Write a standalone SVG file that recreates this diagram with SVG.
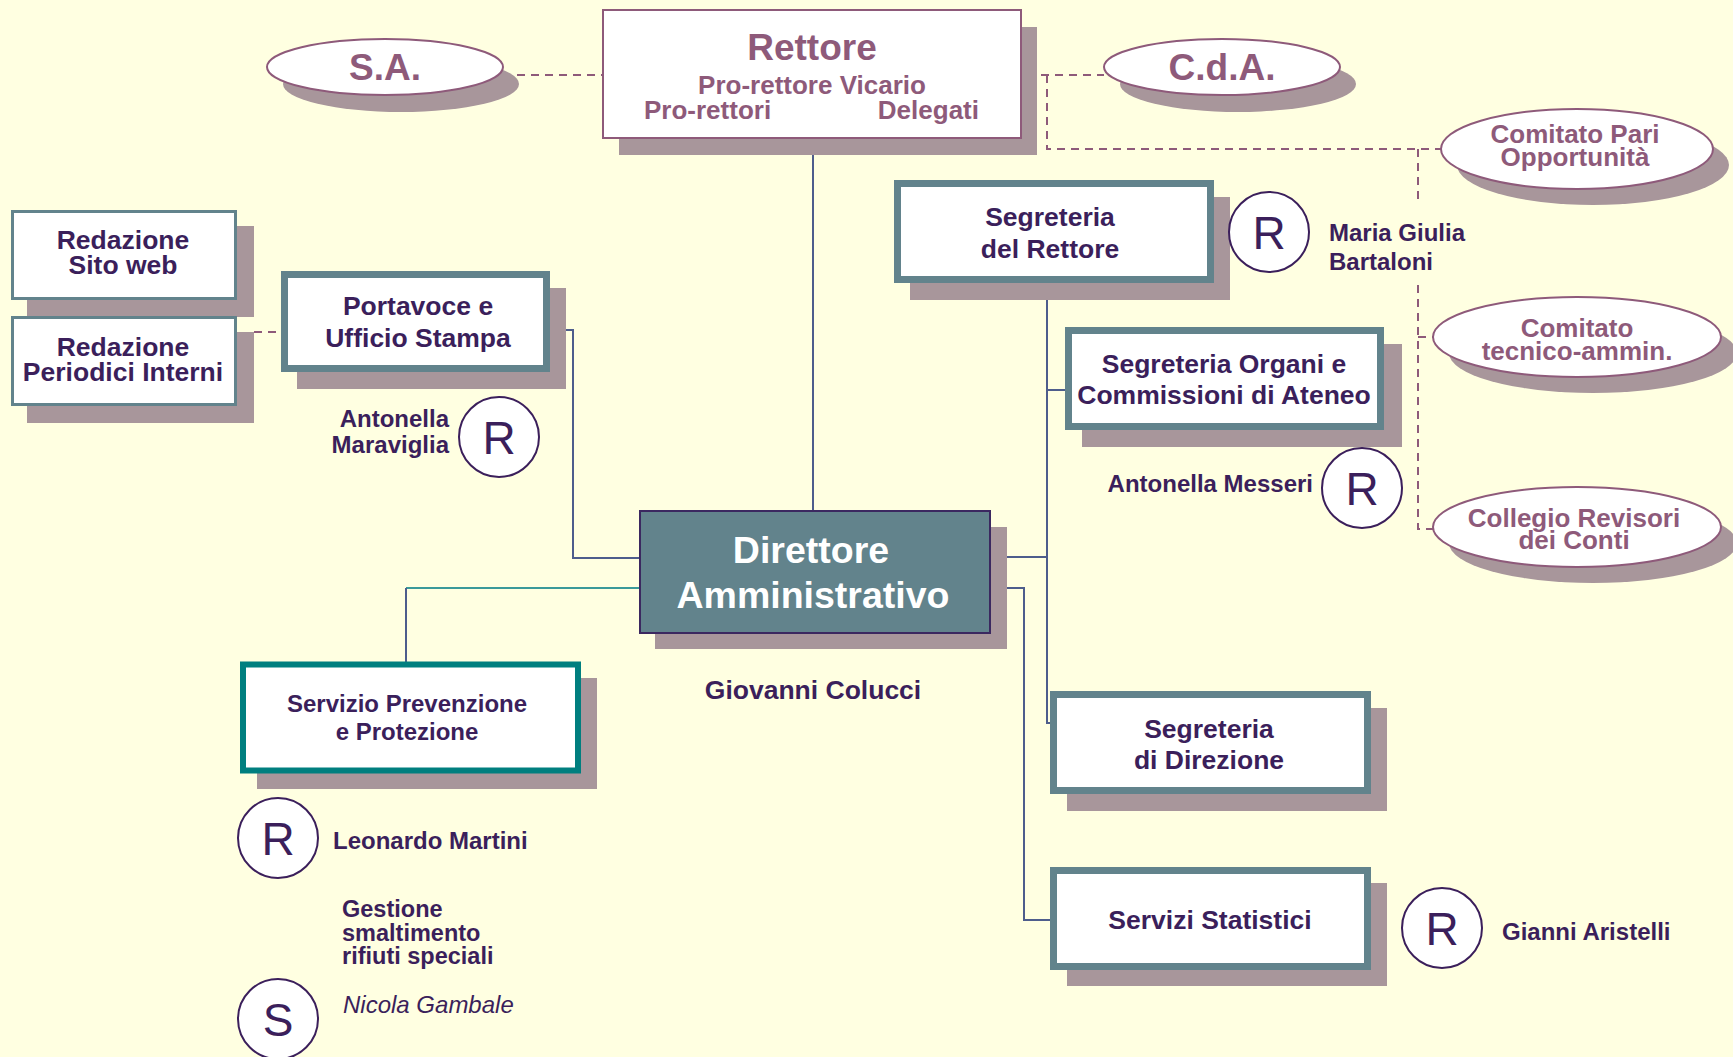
<svg xmlns="http://www.w3.org/2000/svg" width="1733" height="1057" viewBox="0 0 1733 1057">
<style>
.sh{fill:#A8969B}
.box{fill:#fff;stroke:#62838C;stroke-width:7}
.thin{fill:#fff;stroke:#62838C;stroke-width:3}
.ell{fill:#fff;stroke:#8E5A7A;stroke-width:2}
.circ{fill:#fff;stroke:#3B1F5B;stroke-width:2}
.ln{fill:none;stroke:#4E5D8C;stroke-width:2}
.dash{fill:none;stroke:#8E5A7A;stroke-width:2;stroke-dasharray:8 6}
text{font-family:"Liberation Sans",Arial,sans-serif;font-weight:bold;fill:#3B1F5B}
.m{fill:#8E5A7A}
.c{text-anchor:middle}
.r{text-anchor:end}
.R{font-weight:normal;font-size:46px;text-anchor:middle}
.bx{font-size:26.5px}
.nm{font-size:24px}
.w{fill:#fff;font-size:37.5px}
</style>
<rect width="1733" height="1057" fill="#FFFFE1"/>
<g id="connectors">
<path class="dash" d="M503 75H603"/>
<path class="dash" d="M1041 75H1104M1047 75V149H1441M1418 149V202M1418 285V529H1433M1418 337H1433"/>
<path class="dash" d="M254 332H281"/>
<path class="ln" d="M813 138V511"/>
<path class="ln" d="M550 330H573V558H639"/>
<path d="M639 588H406" fill="none" stroke="#3A9A9A" stroke-width="2"/>
<path class="ln" d="M406 588V662"/>
<path class="ln" d="M990 557H1047M1047 300V723H1052M1047 390H1065"/>
<path class="ln" d="M990 588H1024V920H1052"/>
</g>
<g id="sa">
<ellipse class="sh" cx="401" cy="84" rx="118" ry="28"/>
<ellipse class="ell" cx="385" cy="67" rx="118" ry="28"/>
<text class="m c" x="385" y="80" font-size="37">S.A.</text>
</g>
<g id="cda">
<ellipse class="sh" cx="1238" cy="84" rx="118" ry="28"/>
<ellipse class="ell" cx="1222" cy="67" rx="118" ry="28"/>
<text class="m c" x="1222" y="80" font-size="37">C.d.A.</text>
</g>
<g id="rettore">
<rect class="sh" x="619" y="27" width="418" height="128"/>
<rect x="603" y="10" width="418" height="128" fill="#fff" stroke="#8E5A7A" stroke-width="2"/>
<text class="m c" x="812" y="60" font-size="37">Rettore</text>
<text class="m c" x="812" y="94" font-size="26">Pro-rettore Vicario</text>
<text class="m" x="644" y="119" font-size="26">Pro-rettori</text>
<text class="m r" x="979" y="119" font-size="26">Delegati</text>
</g>
<g id="pari">
<ellipse class="sh" cx="1593" cy="165" rx="136" ry="40"/>
<ellipse class="ell" cx="1577" cy="149" rx="136" ry="40"/>
<text class="m c" x="1575" y="143" font-size="26">Comitato Pari</text>
<text class="m c" x="1575" y="166" font-size="26">Opportunità</text>
</g>
<g id="tecnico">
<ellipse class="sh" cx="1593" cy="353" rx="144" ry="40"/>
<ellipse class="ell" cx="1577" cy="337" rx="144" ry="40"/>
<text class="m c" x="1577" y="337" font-size="26">Comitato</text>
<text class="m c" x="1577" y="360" font-size="26">tecnico-ammin.</text>
</g>
<g id="collegio">
<ellipse class="sh" cx="1593" cy="543" rx="144" ry="40"/>
<ellipse class="ell" cx="1577" cy="527" rx="144" ry="40"/>
<text class="m c" x="1574" y="527" font-size="26">Collegio Revisori</text>
<text class="m c" x="1574" y="549" font-size="26">dei Conti</text>
</g>
<g id="seg-rettore">
<rect class="sh" x="910" y="197" width="320" height="103"/>
<rect class="box" x="897.5" y="183.5" width="313" height="96"/>
<text class="c bx" x="1050" y="226">Segreteria</text>
<text class="c bx" x="1050" y="258">del Rettore</text>
<circle class="circ" cx="1269" cy="232" r="40"/>
<text class="R" x="1269" y="249">R</text>
<text class="nm" x="1329" y="241">Maria Giulia</text>
<text class="nm" x="1329" y="270">Bartaloni</text>
</g>
<g id="seg-organi">
<rect class="sh" x="1082" y="344" width="320" height="103"/>
<rect class="box" x="1068.5" y="330.5" width="312" height="96"/>
<text class="c bx" x="1224" y="373">Segreteria Organi e</text>
<text class="c bx" x="1224" y="404">Commissioni di Ateneo</text>
<circle class="circ" cx="1362" cy="488" r="40"/>
<text class="R" x="1362" y="505">R</text>
<text class="r nm" x="1313" y="492">Antonella Messeri</text>
</g>
<g id="red-sito">
<rect class="sh" x="27" y="226" width="227" height="91"/>
<rect class="thin" x="12.5" y="211.5" width="223" height="87"/>
<text class="c bx" x="123" y="249">Redazione</text>
<text class="c bx" x="123" y="274">Sito web</text>
</g>
<g id="red-periodici">
<rect class="sh" x="27" y="332" width="227" height="91"/>
<rect class="thin" x="12.5" y="317.5" width="223" height="87"/>
<text class="c bx" x="123" y="356">Redazione</text>
<text class="c bx" x="123" y="381">Periodici Interni</text>
</g>
<g id="portavoce">
<rect class="sh" x="297" y="288" width="269" height="101"/>
<rect class="box" x="284.5" y="274.5" width="262" height="94"/>
<text class="c bx" x="418" y="315">Portavoce e</text>
<text class="c bx" x="418" y="347">Ufficio Stampa</text>
<circle class="circ" cx="499" cy="437" r="40"/>
<text class="R" x="499" y="454">R</text>
<text class="r nm" x="449" y="427">Antonella</text>
<text class="r nm" x="449" y="453">Maraviglia</text>
</g>
<g id="direttore">
<rect class="sh" x="655" y="527" width="352" height="122"/>
<rect x="640" y="511" width="350" height="122" fill="#62838C" stroke="#3B2860" stroke-width="2"/>
<text class="c w" x="811" y="563">Direttore</text>
<text class="c w" x="813" y="608">Amministrativo</text>
<text class="c bx" x="813" y="699">Giovanni Colucci</text>
</g>
<g id="servizio-prev">
<rect class="sh" x="257" y="678" width="340" height="111"/>
<rect x="243" y="664.5" width="335" height="106" fill="#fff" stroke="#007F7F" stroke-width="6"/>
<text class="c nm" x="407" y="712">Servizio Prevenzione</text>
<text class="c nm" x="407" y="740">e Protezione</text>
<circle class="circ" cx="278" cy="838" r="40"/>
<text class="R" x="278" y="855">R</text>
<text class="nm" x="333" y="849">Leonardo Martini</text>
<text x="342" y="917" font-size="23.5">Gestione</text>
<text x="342" y="941" font-size="23.5">smaltimento</text>
<text x="342" y="964" font-size="23.5">rifiuti speciali</text>
<circle class="circ" cx="278" cy="1019" r="40"/>
<text class="R" x="278" y="1036">S</text>
<text x="343" y="1013" font-size="24" font-style="italic" style="font-weight:normal">Nicola Gambale</text>
</g>
<g id="seg-direzione">
<rect class="sh" x="1067" y="708" width="320" height="103"/>
<rect class="box" x="1053.5" y="694.5" width="314" height="96"/>
<text class="c bx" x="1209" y="738">Segreteria</text>
<text class="c bx" x="1209" y="769">di Direzione</text>
</g>
<g id="servizi-stat">
<rect class="sh" x="1067" y="883" width="320" height="103"/>
<rect class="box" x="1053.5" y="870.5" width="314" height="96"/>
<text class="c bx" x="1210" y="929">Servizi Statistici</text>
<circle class="circ" cx="1442" cy="928" r="40"/>
<text class="R" x="1442" y="945">R</text>
<text class="nm" x="1502" y="940">Gianni Aristelli</text>
</g>
</svg>
